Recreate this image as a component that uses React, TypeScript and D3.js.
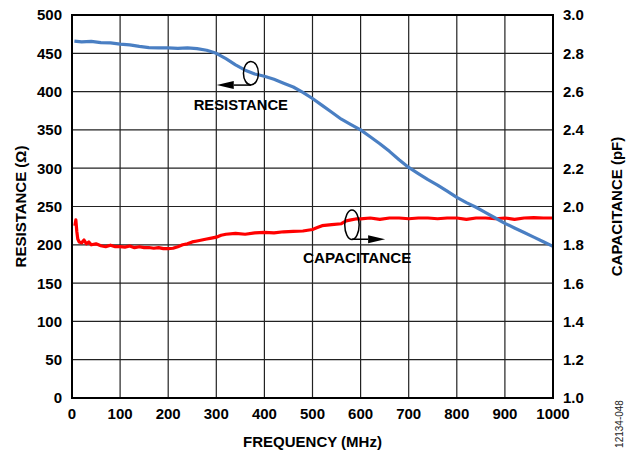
import React from "react";
import * as d3 from "d3";

const xTicks = [0, 100, 200, 300, 400, 500, 600, 700, 800, 900, 1000];
const leftTicks = [0, 50, 100, 150, 200, 250, 300, 350, 400, 450, 500];
const rightTicks = ["1.0", "1.2", "1.4", "1.6", "1.8", "2.0", "2.2", "2.4", "2.6", "2.8", "3.0"];

const resFreq = [5, 20, 40, 60, 80, 100, 120, 140, 160, 180, 200, 220, 240, 260, 280, 300, 320, 340, 360, 380, 400, 420, 440, 460, 480, 500, 520, 540, 560, 580, 600, 620, 640, 660, 680, 700, 720, 740, 760, 780, 800, 820, 840, 860, 880, 900, 920, 940, 960, 980, 1000];
const resValue = [466, 465, 465.5, 464, 463.5, 462, 461, 459, 457.5, 457, 457, 456.5, 457, 456, 454, 450, 443, 435, 428, 423, 420, 416, 411, 406, 399, 391, 382, 373, 364, 357, 350, 341, 332, 322, 311, 301, 293, 285, 278, 270, 262, 255, 249, 242, 235, 228, 222, 216, 210, 204, 198];

const capFreq = [6, 8, 10, 12, 15, 20, 25, 30, 35, 40, 50, 60, 70, 80, 90, 100, 110, 120, 130, 140, 150, 160, 170, 180, 190, 200, 210, 220, 230, 240, 250, 260, 270, 280, 290, 300, 310, 320, 340, 360, 380, 400, 420, 440, 460, 480, 500, 510, 520, 540, 560, 570, 580, 590, 600, 620, 640, 660, 680, 700, 720, 740, 760, 780, 800, 820, 840, 860, 880, 900, 920, 940, 960, 980, 1000];
const capValue = [1.9, 1.93, 1.87, 1.83, 1.815, 1.81, 1.825, 1.805, 1.815, 1.8, 1.805, 1.795, 1.79, 1.798, 1.79, 1.79, 1.788, 1.794, 1.785, 1.79, 1.785, 1.786, 1.782, 1.785, 1.78, 1.78, 1.782, 1.79, 1.8, 1.805, 1.815, 1.82, 1.825, 1.83, 1.835, 1.84, 1.85, 1.855, 1.86, 1.855, 1.862, 1.865, 1.862, 1.868, 1.87, 1.872, 1.88, 1.89, 1.9, 1.905, 1.91, 1.925, 1.93, 1.935, 1.935, 1.94, 1.933, 1.94, 1.94, 1.936, 1.94, 1.94, 1.936, 1.94, 1.94, 1.933, 1.94, 1.94, 1.936, 1.94, 1.933, 1.94, 1.942, 1.94, 1.94];

const FONT = "'Liberation Sans', Arial, sans-serif";

function Arrow({ x1, x2, y }: { x1: number; x2: number; y: number }) {
  const dir = x2 > x1 ? 1 : -1;
  const L = 17, h = 4;
  const base = x2 - dir * L;
  return (
    <g>
      <line x1={x1} y1={y} x2={base} y2={y} stroke="#000" strokeWidth={1.5} />
      <path d={`M${x2},${y} L${base},${y - h} L${base},${y + h} Z`} fill="#000" />
    </g>
  );
}

export default function App() {
  const W = 631, H = 452;
  const x = d3.scaleLinear().domain([0, 1000]).range([72, 553]);
  const yL = d3.scaleLinear().domain([0, 500]).range([398, 15]);
  const yR = d3.scaleLinear().domain([1, 3]).range([398, 15]);

  const resLine = d3.line<number>().x((_, i) => x(resFreq[i])).y((d) => yL(d));
  const capLine = d3.line<number>().x((_, i) => x(capFreq[i])).y((d) => yR(d));

  const gridColor = "#222";

  const rEll = { f: 372, r: 424 };
  const rArrowTip = { f: 301, r: 408.5 };
  const cEll = { f: 582, c: 1.905 };
  const cArrowTip = { f: 651, c: 1.829 };

  return (
    <svg width={W} height={H} style={{ position: "absolute", left: 0, top: 0, background: "#fff" }} fontFamily={FONT}>
      {xTicks.map((t) => (
        <line key={"gx" + t} x1={x(t)} x2={x(t)} y1={yL(0)} y2={yL(500)} stroke={gridColor} strokeWidth={1.2} />
      ))}
      {leftTicks.map((t) => (
        <line key={"gy" + t} x1={x(0)} x2={x(1000)} y1={yL(t)} y2={yL(t)} stroke={gridColor} strokeWidth={1.2} />
      ))}
      <path d={capLine(capValue) || ""} fill="none" stroke="#ff0000" strokeWidth={3.2} strokeLinejoin="round" />
      <path d={resLine(resValue) || ""} fill="none" stroke="#4a7fc3" strokeWidth={3.2} strokeLinejoin="round" />
      <rect x={x(0)} y={yL(500)} width={x(1000) - x(0)} height={yL(0) - yL(500)} fill="none" stroke="#000" strokeWidth={2} />
      {xTicks.map((t) => (
        <text key={"tx" + t} x={x(t)} y={419} textAnchor="middle" fontSize={15} fontWeight="bold" fill="#000">{t}</text>
      ))}
      {leftTicks.map((t) => (
        <text key={"tl" + t} x={62} y={yL(t) + 5.4} textAnchor="end" fontSize={15} fontWeight="bold" fill="#000">{t}</text>
      ))}
      {rightTicks.map((t) => (
        <text key={"tr" + t} x={563} y={yR(+t) + 5.4} textAnchor="start" fontSize={15} fontWeight="bold" fill="#000">{t}</text>
      ))}
      <text x={312.5} y={447} textAnchor="middle" fontSize={15} fontWeight="bold">FREQUENCY (MHz)</text>
      <text transform={`translate(26,206.5) rotate(-90)`} textAnchor="middle" fontSize={15} fontWeight="bold">RESISTANCE (Ω)</text>
      <text transform={`translate(621.5,206.5) rotate(-90)`} textAnchor="middle" fontSize={15} fontWeight="bold">CAPACITANCE (pF)</text>
      <text transform={`translate(622.5,424) rotate(-90)`} textAnchor="middle" fontSize={10} fill="#222">12134-048</text>
      <ellipse cx={x(rEll.f)} cy={yL(rEll.r)} rx={7.5} ry={11.7} fill="none" stroke="#000" strokeWidth={1.5} />
      <Arrow x1={x(rEll.f)} x2={x(rArrowTip.f)} y={yL(rArrowTip.r)} />
      <text x={x(351)} y={110} textAnchor="middle" fontSize={14.8} fontWeight="bold">RESISTANCE</text>
      <ellipse cx={x(cEll.f)} cy={yR(cEll.c)} rx={7.2} ry={14.7} fill="none" stroke="#000" strokeWidth={1.5} />
      <Arrow x1={x(cEll.f)} x2={x(cArrowTip.f)} y={yR(cArrowTip.c)} />
      <text x={x(593)} y={263} textAnchor="middle" fontSize={15.2} fontWeight="bold">CAPACITANCE</text>
    </svg>
  );
}
